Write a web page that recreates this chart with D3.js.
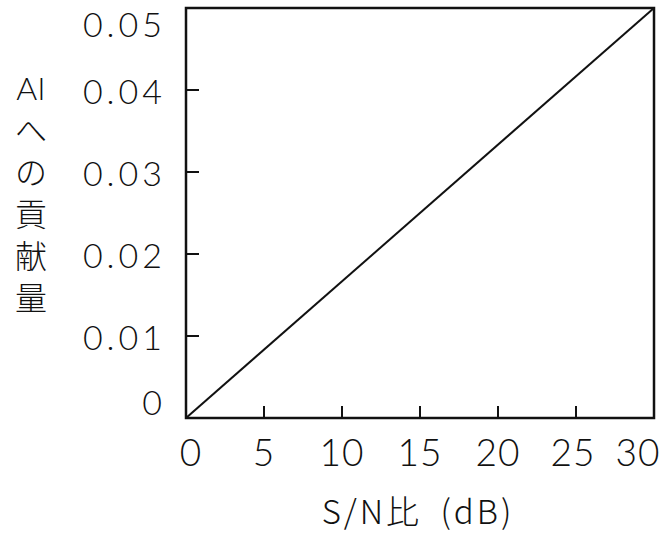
<!DOCTYPE html>
<html>
<head>
<meta charset="utf-8">
<script src="https://cdn.jsdelivr.net/npm/d3@7"></script>
<style>
  body { margin: 0; background: #fff; }
  text { fill: #111; font-family: "Lato", "Open Sans", sans-serif; font-weight: 300; }
  .cjk { font-family: "Noto Sans CJK JP", sans-serif; font-weight: 300; }
</style>
</head>
<body>
<svg id="chart" width="661" height="541"></svg>
<script>
// data
const snr = [0, 30];
const contribution = [0, 0.05];
const xTicks = [0, 5, 10, 15, 20, 25, 30];
const yTicks = [0, 0.01, 0.02, 0.03, 0.04, 0.05];
const yTickLabels = ["0", "0.01", "0.02", "0.03", "0.04", "0.05"];
const yTitle = ["AI", "へ", "の", "貢", "献", "量"];
const xTitle = "S/N比 (dB)";

const svg = d3.select("#chart");
const plotLeft = 186, plotRight = 654, plotTop = 8, plotBottom = 418;

const x = d3.scaleLinear().domain([0, 30]).range([plotLeft, plotRight]);
const y = d3.scaleLinear().domain([0, 0.05]).range([plotBottom, plotTop]);

// frame
svg.append("rect")
  .attr("x", plotLeft).attr("y", plotTop)
  .attr("width", plotRight - plotLeft).attr("height", plotBottom - plotTop)
  .attr("fill", "none").attr("stroke", "#111").attr("stroke-width", 2.5);

// inward ticks
svg.append("g")
  .selectAll("line")
  .data(xTicks.slice(1, -1))
  .join("line")
  .attr("x1", (d) => x(d)).attr("x2", (d) => x(d))
  .attr("y1", plotBottom).attr("y2", plotBottom - 12)
  .attr("stroke", "#111").attr("stroke-width", 2);

svg.append("g")
  .selectAll("line")
  .data(yTicks.slice(1, -1))
  .join("line")
  .attr("x1", plotLeft).attr("x2", plotLeft + 13)
  .attr("y1", (d) => y(d)).attr("y2", (d) => y(d))
  .attr("stroke", "#111").attr("stroke-width", 2);

// tick labels
svg.append("g")
  .selectAll("text")
  .data(xTicks)
  .join("text")
  .attr("x", (d) => x(d) + (d === 0 ? 5 : d === 25 ? -3 : d === 30 ? -16 : 0))
  .attr("y", plotBottom + 35)
  .attr("dy", "0.35em")
  .attr("text-anchor", "middle")
  .attr("font-size", 37)
  .attr("letter-spacing", 1)
  .text((d) => d);

svg.append("g")
  .selectAll("text")
  .data(yTicks)
  .join("text")
  .attr("x", plotLeft - 20)
  .attr("y", (d, i) => y(d) + (i === 0 ? -15 : i === yTicks.length - 1 ? 17 : 2))
  .attr("dy", "0.35em")
  .attr("text-anchor", "end")
  .attr("font-size", 34)
  .attr("letter-spacing", 4)
  .text((d, i) => yTickLabels[i]);

// the line
const line = d3.line().x((d) => x(d[0])).y((d) => y(d[1]));
svg.append("path")
  .datum(snr.map((s, i) => [s, contribution[i]]))
  .attr("d", line)
  .attr("fill", "none")
  .attr("stroke", "#111")
  .attr("stroke-width", 2);

// axis titles
svg.append("text")
  .attr("class", "cjk")
  .attr("x", (plotLeft + plotRight) / 2 - 2)
  .attr("y", 512)
  .attr("dy", "0.35em")
  .attr("text-anchor", "middle")
  .attr("font-size", 33)
  .attr("letter-spacing", 3)
  .attr("word-spacing", 8)
  .text(xTitle);

svg.append("g")
  .selectAll("text")
  .data(yTitle)
  .join("text")
  .attr("class", (d, i) => (i === 0 ? null : "cjk"))
  .attr("x", 31)
  .attr("y", (d, i) => 89 + i * 42)
  .attr("dy", "0.35em")
  .attr("text-anchor", "middle")
  .attr("font-size", 32)
  .text((d) => d);
</script>
</body>
</html>
